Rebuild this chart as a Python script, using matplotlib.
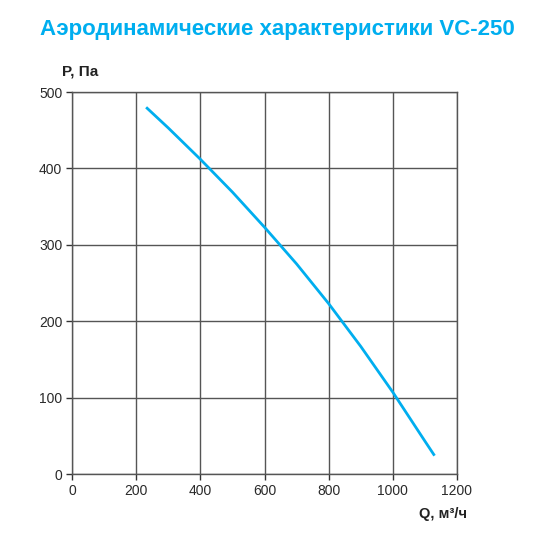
import matplotlib.pyplot as plt

# fan curve (Q in m3/h, P in Pa)
flow = [231, 300, 400, 500, 600, 700, 800, 900, 1000, 1100, 1130]
pressure = [480, 453, 412, 369, 323, 275, 223, 167, 107, 43, 24]

x_ticks = [0, 200, 400, 600, 800, 1000, 1200]
y_ticks = [0, 100, 200, 300, 400, 500]

plt.rcParams['font.family'] = ['Liberation Sans', 'DejaVu Sans']

fig = plt.figure(figsize=(5.4, 5.4), dpi=100)
ax = fig.add_axes([72 / 540, 1 - 474 / 540, 385 / 540, 382 / 540])

ax.plot(flow, pressure, color="#00AEEF", lw=2.0, solid_capstyle="butt",
        solid_joinstyle="round")

ax.set_xlim(0, 1200)
ax.set_ylim(0, 500)
ax.set_xticks(x_ticks)
ax.set_yticks(y_ticks)
ax.grid(True, color="#555555", lw=1.0)
ax.set_axisbelow(True)
for s in ax.spines.values():
    s.set_color("#555555")
    s.set_linewidth(1.0)
ax.tick_params(direction="out", length=4, width=1, color="#333333",
               labelsize=10, labelcolor="#2a2a2a", pad=3)

fig.text(0.514, 0.945, "Аэродинамические характеристики VC-250",
         ha="center", va="center", fontsize=16, fontweight="bold", color="#00AEEF")
fig.text(62 / 540, 1 - 72 / 540, "P, Па", ha="left", va="center",
         fontsize=11, fontweight="bold", color="#222222")
fig.text(467 / 540, 1 - 514 / 540, "Q, м³/ч", ha="right", va="center",
         fontsize=10.5, fontweight="bold", color="#222222")

fig.savefig("out.png", dpi=100)
